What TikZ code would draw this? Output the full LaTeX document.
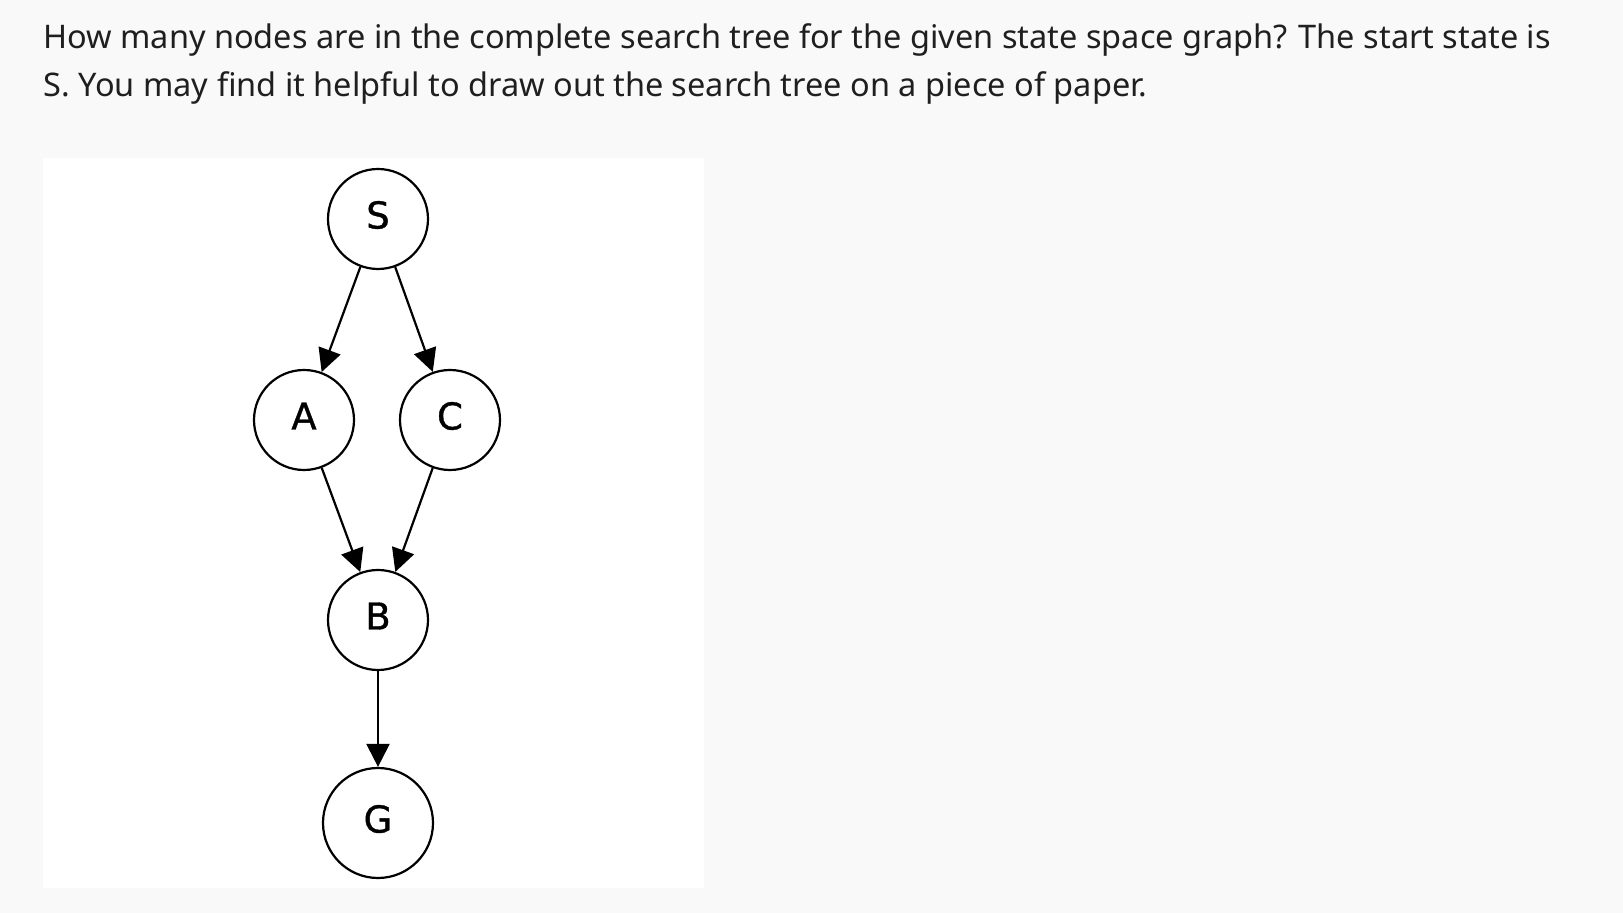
\documentclass[tikz,border=0pt]{standalone}
\usepackage{fontspec}
\setmainfont{Noto Sans}
\newfontfamily\graphfont[FakeBold=1]{DejaVu Sans}
\usetikzlibrary{arrows.meta}
\definecolor{pagebg}{HTML}{F9F9F9}
\definecolor{txtcol}{HTML}{1F1F1F}

\tikzset{
  state/.style={circle,draw,line width=1.1pt,minimum size=50pt,inner sep=0pt,
    text height=13.5pt,text depth=4pt,
    font=\graphfont\fontsize{18.5}{20}\selectfont},
  edge/.style={line width=1.1pt,-{Triangle[length=11.5pt,width=11.5pt]}},
  question/.style={anchor=base west,inner sep=0pt,text=txtcol,
    font=\fontsize{16.25}{24}\selectfont}
}

\begin{document}
\begin{tikzpicture}[x=0.5pt,y=-0.5pt]
\fill[pagebg] (0,0) rectangle (1623,913);
\fill[white] (43,158) rectangle (704,888);
\node[question] (q1) at (43,49) {How many nodes are in the complete search tree for the given state space graph? The start state is};
\node[question] (q2) at (43,97) {S. You may find it helpful to draw out the search tree on a piece of paper.};
\node[state] (S) at (378,219) {S};
\node[state] (A) at (304,420) {A};
\node[state] (C) at (450,420) {C};
\node[state] (B) at (378,620) {B};
\node[state,minimum size=55pt] (G) at (378,823) {G};
\draw[edge] (S) -- (A);
\draw[edge] (S) -- (C);
\draw[edge] (A) -- (B);
\draw[edge] (C) -- (B);
\draw[edge] (B) -- (G);
\end{tikzpicture}
\end{document}
